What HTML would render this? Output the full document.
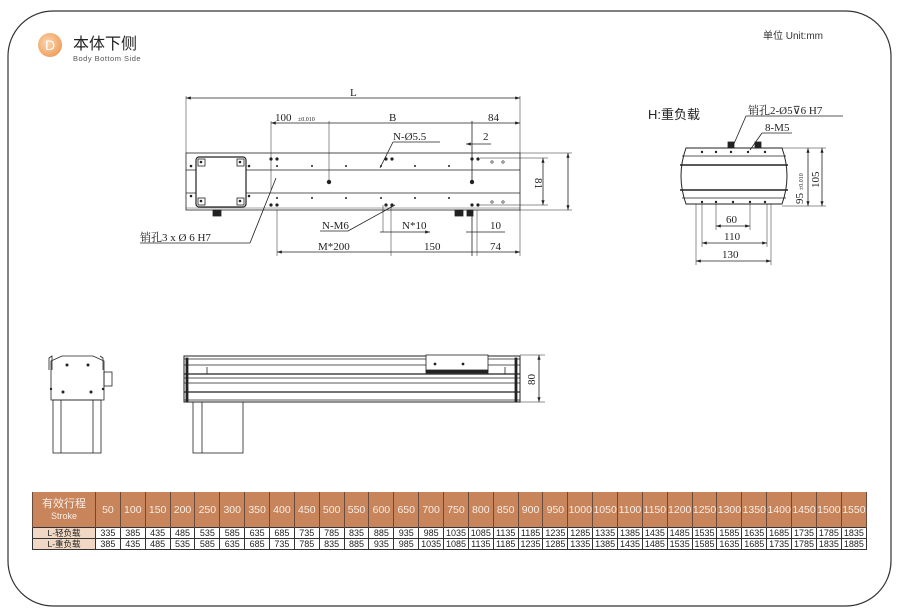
<!DOCTYPE html>
<html><head><meta charset="utf-8"><style>
body{margin:0;width:899px;height:616px;background:#fff;position:relative;overflow:hidden;font-family:"Liberation Sans","Noto Sans CJK SC",sans-serif}
svg{position:absolute;left:0;top:0}
table{position:absolute;left:32px;top:492px;width:835px;border-collapse:collapse;table-layout:fixed;font-size:9px;text-align:center}
td{border:1px solid #333;padding:0;line-height:10px;height:10px;overflow:hidden;white-space:nowrap;color:#222}
tr.h td{background:#c8845a;color:#f8eee6;height:35px;font-size:10.5px;border-color:#6a4a3a;border-width:0 1px}
td.f{background:#f0d8c4;font-size:8.5px}
</style></head><body>
<svg width="899" height="616" viewBox="0 0 899 616" font-family="Liberation Serif, Noto Serif CJK SC, serif" font-size="11" fill="none" stroke="#222" stroke-width="0.8">
<defs><radialGradient id="g" cx="0.4" cy="0.4" r="0.7"><stop offset="0" stop-color="#fbd5ae"/><stop offset="1" stop-color="#ee9a55"/></radialGradient>
<marker id="a" markerWidth="6" markerHeight="4" refX="6" refY="2" orient="auto-start-reverse"><path d="M0,0L6,2L0,4z" fill="#222" stroke="none"/></marker></defs>
<path d="M53,11 H846 A45,45 0 0 1 891,56 V561 A45,45 0 0 1 846,606 H53 A45,45 0 0 1 8,561 V56 A45,45 0 0 1 53,11Z" stroke="#333" stroke-width="1.2"/>
<circle cx="50" cy="45" r="12" fill="url(#g)" stroke="none"/>
<text x="50" y="50" font-family="Liberation Sans" font-size="14" fill="#fff" stroke="none" text-anchor="middle">D</text>
<text x="73" y="49" font-family="Liberation Sans, Noto Sans CJK SC" font-size="16" fill="#222" stroke="none">本体下侧</text>
<text x="73" y="61" font-family="Liberation Sans" font-size="7.5" fill="#555" stroke="none" letter-spacing="0.5">Body Bottom Side</text>
<text x="763" y="39" font-family="Liberation Sans, Noto Sans CJK SC" font-size="10" fill="#333" stroke="none">单位 Unit:mm</text>

<!-- top view -->
<rect x="186" y="153" width="334" height="57"/>
<line x1="186" y1="170" x2="520" y2="170"/><line x1="186" y1="193" x2="520" y2="193"/>
<line x1="186" y1="208" x2="520" y2="208" stroke-width="0.4"/>
<rect x="196" y="157" width="50" height="50" rx="3" fill="#fff" stroke-width="1.2"/>
<g fill="#fff"><rect x="198" y="159" width="7" height="7"/><rect x="237" y="159" width="7" height="7"/><rect x="198" y="198" width="7" height="7"/><rect x="237" y="198" width="7" height="7"/></g>
<g fill="#222" stroke="none">
<circle cx="201" cy="162" r="1.3"/><circle cx="240" cy="162" r="1.3"/><circle cx="201" cy="201" r="1.3"/><circle cx="240" cy="201" r="1.3"/>
<circle cx="191" cy="166" r="1.3"/><circle cx="249" cy="166" r="1.3"/><circle cx="191" cy="196" r="1.3"/><circle cx="249" cy="196" r="1.3"/>
<circle cx="271" cy="159" r="1.6"/><circle cx="277" cy="159" r="1.6"/><circle cx="271" cy="205" r="1.6"/><circle cx="277" cy="205" r="1.6"/>
<circle cx="472" cy="159" r="1.6"/><circle cx="478" cy="159" r="1.6"/><circle cx="472" cy="205" r="1.6"/><circle cx="478" cy="205" r="1.6"/>
<circle cx="386" cy="159" r="1.6"/><circle cx="392" cy="159" r="1.6"/><circle cx="386" cy="205" r="1.6"/><circle cx="392" cy="205" r="1.6"/>
<circle cx="329" cy="182" r="2.2"/><circle cx="472" cy="182" r="2.2"/>
<circle cx="277" cy="166" r="1"/><circle cx="312" cy="166" r="1"/><circle cx="346" cy="166" r="1"/><circle cx="381" cy="166" r="1"/><circle cx="415" cy="166" r="1"/><circle cx="449" cy="166" r="1"/>
<circle cx="277" cy="198" r="1"/><circle cx="312" cy="198" r="1"/><circle cx="346" cy="198" r="1"/><circle cx="381" cy="198" r="1"/><circle cx="415" cy="198" r="1"/><circle cx="449" cy="198" r="1"/>
</g>
<g stroke-width="0.6"><circle cx="492" cy="162" r="1.2"/><circle cx="503" cy="162" r="1.2"/><circle cx="492" cy="202" r="1.2"/><circle cx="503" cy="202" r="1.2"/></g>
<rect x="213" y="210" width="8" height="6" fill="#222"/><rect x="455" y="210" width="8" height="6" fill="#222"/><rect x="467" y="210" width="6" height="6" fill="#222"/>
<!-- dims -->
<line x1="186" y1="98" x2="520" y2="98" marker-start="url(#a)" marker-end="url(#a)"/>
<line x1="186" y1="96" x2="186" y2="153" stroke-width="0.5"/><line x1="520" y1="96" x2="520" y2="153" stroke-width="0.5"/>
<text x="350" y="96" fill="#222" stroke="none">L</text>
<line x1="271" y1="123" x2="520" y2="123" marker-start="url(#a)" marker-end="url(#a)"/>
<line x1="271" y1="121" x2="271" y2="190" stroke-width="0.5"/><line x1="329" y1="121" x2="329" y2="182" stroke-width="0.5"/><line x1="472" y1="121" x2="472" y2="182" stroke-width="0.8"/>
<text x="275" y="121" fill="#222" stroke="none">100</text><text x="298" y="121" font-size="6" fill="#222" stroke="none">±0.010</text>
<text x="389" y="121" fill="#222" stroke="none">B</text><text x="488" y="121" fill="#222" stroke="none">84</text>
<text x="393" y="140" fill="#222" stroke="none">N-Ø5.5</text><line x1="393" y1="142" x2="440" y2="142"/>
<line x1="393" y1="142" x2="380" y2="168"/>
<text x="483" y="140" fill="#222" stroke="none">2</text><line x1="466" y1="144" x2="491" y2="144" marker-start="url(#a)"/>
<line x1="276" y1="178" x2="250" y2="243"/><line x1="140" y1="243" x2="250" y2="243"/>
<text x="140" y="241" fill="#222" stroke="none">销孔3 x Ø 6 H7</text>
<text x="322" y="229" fill="#222" stroke="none">N-M6</text><line x1="320" y1="231" x2="348" y2="231"/><line x1="348" y1="231" x2="395" y2="205"/>
<line x1="383" y1="205" x2="383" y2="232" stroke-width="0.5"/><line x1="391" y1="205" x2="391" y2="256" stroke-width="0.5"/>
<line x1="380" y1="232" x2="430" y2="232" marker-end="url(#a)"/>
<text x="402" y="229" fill="#222" stroke="none">N*10</text>
<line x1="472" y1="210" x2="472" y2="256" stroke-width="0.8"/><line x1="477" y1="210" x2="477" y2="256" stroke-width="0.5"/>
<line x1="466" y1="232" x2="505" y2="232"/><text x="490" y="229" fill="#222" stroke="none">10</text>
<line x1="277" y1="210" x2="277" y2="256" stroke-width="0.5"/>
<line x1="277" y1="252" x2="520" y2="252" marker-start="url(#a)" marker-end="url(#a)"/>
<text x="318" y="250" fill="#222" stroke="none">M*200</text><text x="424" y="250" fill="#222" stroke="none">150</text><text x="490" y="250" fill="#222" stroke="none">74</text>
<line x1="520" y1="210" x2="520" y2="256" stroke-width="0.5"/>
<line x1="480" y1="158" x2="548" y2="158" stroke-width="0.5"/><line x1="480" y1="205" x2="548" y2="205" stroke-width="0.5"/>
<line x1="543" y1="158" x2="543" y2="205" marker-start="url(#a)" marker-end="url(#a)"/>
<text x="535" y="178" fill="#222" stroke="none" transform="rotate(90 535 178)">81</text>
<line x1="520" y1="153" x2="572" y2="153" stroke-width="0.5"/><line x1="520" y1="210" x2="572" y2="210" stroke-width="0.5"/>
<line x1="568" y1="153" x2="568" y2="210" marker-start="url(#a)" marker-end="url(#a)"/>

<!-- H view -->
<text x="648" y="119" font-family="Liberation Sans, Noto Sans CJK SC" font-size="13" fill="#222" stroke="none">H:重负载</text>
<text x="748" y="114" fill="#222" stroke="none">销孔2-Ø5⊽6 H7</text><line x1="746" y1="116" x2="843" y2="116"/><line x1="746" y1="116" x2="733" y2="146"/>
<text x="765" y="131" fill="#222" stroke="none">8-M5</text><line x1="762" y1="133" x2="792" y2="133"/><line x1="762" y1="133" x2="750" y2="150"/>
<path d="M686,148 H782 Q792,176 782,204 H686 Q676,176 686,148Z" stroke-width="1"/>
<line x1="682" y1="156" x2="786" y2="156"/><line x1="680" y1="165" x2="788" y2="165" stroke-width="1.5"/><line x1="680" y1="190" x2="788" y2="190" stroke-width="1.5"/><line x1="682" y1="198" x2="786" y2="198"/>
<rect x="728" y="142" width="6" height="6" fill="#222"/><rect x="755" y="142" width="6" height="6" fill="#222"/>
<g fill="#222" stroke="none"><circle cx="702" cy="152" r="1.2"/><circle cx="716" cy="152" r="1.2"/><circle cx="731" cy="152" r="1.2"/><circle cx="748" cy="152" r="1.2"/><circle cx="765" cy="152" r="1.2"/>
<circle cx="702" cy="202" r="1.2"/><circle cx="716" cy="202" r="1.2"/><circle cx="733" cy="202" r="1.2"/><circle cx="750" cy="202" r="1.2"/><circle cx="765" cy="202" r="1.2"/></g>
<g stroke-width="0.5"><line x1="716" y1="204" x2="716" y2="230"/><line x1="750" y1="204" x2="750" y2="230"/><line x1="702" y1="204" x2="702" y2="247"/><line x1="767" y1="204" x2="767" y2="247"/><line x1="696" y1="204" x2="696" y2="265"/><line x1="771" y1="204" x2="771" y2="265"/></g>
<line x1="716" y1="226" x2="750" y2="226" marker-start="url(#a)" marker-end="url(#a)"/><text x="726" y="223" fill="#222" stroke="none">60</text>
<line x1="702" y1="243" x2="767" y2="243" marker-start="url(#a)" marker-end="url(#a)"/><text x="724" y="240" fill="#222" stroke="none">110</text>
<line x1="696" y1="261" x2="771" y2="261" marker-start="url(#a)" marker-end="url(#a)"/><text x="722" y="258" fill="#222" stroke="none">130</text>
<line x1="782" y1="148" x2="826" y2="148" stroke-width="0.5"/><line x1="782" y1="206" x2="826" y2="206" stroke-width="0.5"/>
<line x1="808" y1="148" x2="808" y2="206" marker-start="url(#a)" marker-end="url(#a)"/>
<line x1="822" y1="148" x2="822" y2="206" marker-start="url(#a)" marker-end="url(#a)"/>
<text x="803" y="204" fill="#222" stroke="none" transform="rotate(-90 803 204)">95</text>
<text x="803" y="190" font-size="6" fill="#222" stroke="none" transform="rotate(-90 803 190)">±0.010</text>
<text x="819" y="188" fill="#222" stroke="none" transform="rotate(-90 819 188)">105</text>

<!-- end view -->
<path d="M49,370 V358 L52,356 V370 M100,356 L103,358 V370" stroke-width="0.8"/>
<path d="M51,361 L62,356 H93 L104,361 V400 H51Z"/>
<rect x="104" y="372" width="8" height="14"/>
<g fill="#222" stroke="none"><circle cx="67" cy="365" r="1.5"/><circle cx="88" cy="365" r="1.5"/><circle cx="63" cy="392" r="1.5"/><circle cx="91" cy="392" r="1.5"/><circle cx="51" cy="389" r="1.2"/><circle cx="103" cy="389" r="1.2"/></g>
<rect x="53" y="400" width="48" height="53"/><line x1="61" y1="400" x2="61" y2="453"/><line x1="93" y1="400" x2="93" y2="453"/>

<!-- side view -->
<rect x="184" y="356" width="336" height="46" stroke-width="1"/>
<line x1="184" y1="359" x2="520" y2="359"/><line x1="184" y1="365" x2="520" y2="365"/><line x1="184" y1="374" x2="520" y2="374" stroke-width="1.2"/>
<line x1="184" y1="378" x2="520" y2="378"/><line x1="184" y1="383" x2="520" y2="383"/><line x1="184" y1="392" x2="520" y2="392" stroke-width="1.2"/><line x1="184" y1="400" x2="520" y2="400"/>
<rect x="186" y="358" width="2" height="44" fill="#222"/><rect x="515" y="358" width="2" height="44" fill="#222"/>
<rect x="426" y="355" width="62" height="16" fill="#fff"/><rect x="426" y="370" width="62" height="3" fill="#222"/>
<circle cx="435" cy="364" r="1" fill="#222"/><circle cx="463" cy="364" r="1" fill="#222"/>
<line x1="207" y1="367" x2="207" y2="374"/><line x1="505" y1="367" x2="505" y2="374"/>
<rect x="193" y="402" width="50" height="51"/><line x1="202" y1="402" x2="202" y2="453"/>
<line x1="520" y1="355" x2="545" y2="355" stroke-width="0.5"/><line x1="520" y1="402" x2="545" y2="402" stroke-width="0.5"/>
<line x1="539" y1="355" x2="539" y2="402" marker-start="url(#a)" marker-end="url(#a)"/>
<text x="535" y="385" fill="#222" stroke="none" transform="rotate(-90 535 385)">80</text>
</svg>
<table>
<colgroup><col style="width:63px"><col span="31"></colgroup>
<tr class="h"><td style="font-size:11px;line-height:12px">有效行程<br><span style="font-size:9px">Stroke</span></td><td>50</td><td>100</td><td>150</td><td>200</td><td>250</td><td>300</td><td>350</td><td>400</td><td>450</td><td>500</td><td>550</td><td>600</td><td>650</td><td>700</td><td>750</td><td>800</td><td>850</td><td>900</td><td>950</td><td>1000</td><td>1050</td><td>1100</td><td>1150</td><td>1200</td><td>1250</td><td>1300</td><td>1350</td><td>1400</td><td>1450</td><td>1500</td><td>1550</td></tr>
<tr><td class="f">L-轻负载</td><td>335</td><td>385</td><td>435</td><td>485</td><td>535</td><td>585</td><td>635</td><td>685</td><td>735</td><td>785</td><td>835</td><td>885</td><td>935</td><td>985</td><td>1035</td><td>1085</td><td>1135</td><td>1185</td><td>1235</td><td>1285</td><td>1335</td><td>1385</td><td>1435</td><td>1485</td><td>1535</td><td>1585</td><td>1635</td><td>1685</td><td>1735</td><td>1785</td><td>1835</td></tr>
<tr><td class="f">L-重负载</td><td>385</td><td>435</td><td>485</td><td>535</td><td>585</td><td>635</td><td>685</td><td>735</td><td>785</td><td>835</td><td>885</td><td>935</td><td>985</td><td>1035</td><td>1085</td><td>1135</td><td>1185</td><td>1235</td><td>1285</td><td>1335</td><td>1385</td><td>1435</td><td>1485</td><td>1535</td><td>1585</td><td>1635</td><td>1685</td><td>1735</td><td>1785</td><td>1835</td><td>1885</td></tr>
</table>
</body></html>
